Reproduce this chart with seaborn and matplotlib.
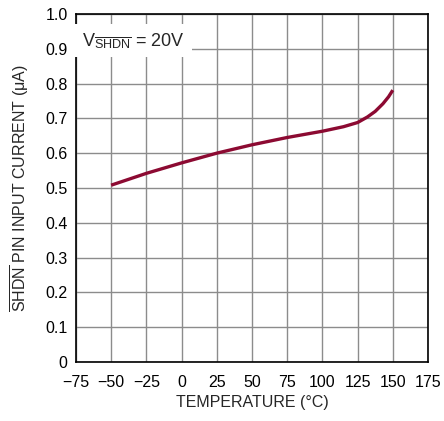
import matplotlib
matplotlib.use("Agg")
import matplotlib.pyplot as plt
import seaborn as sns
import pandas as pd

# --- Data ---
temperature = [-50, -25, 0, 25, 50, 75, 100, 115, 125, 132, 137.5, 143, 147, 150]
current = [0.508, 0.542, 0.572, 0.600, 0.624, 0.645, 0.663, 0.676, 0.688, 0.704, 0.720, 0.742, 0.762, 0.781]
x_ticks = [-75, -50, -25, 0, 25, 50, 75, 100, 125, 150, 175]
y_ticks = [0, 0.1, 0.2, 0.3, 0.4, 0.5, 0.6, 0.7, 0.8, 0.9, 1.0]
y_tick_labels = ["0", "0.1", "0.2", "0.3", "0.4", "0.5", "0.6", "0.7", "0.8", "0.9", "1.0"]

df = pd.DataFrame({"temperature": temperature, "current": current})

# --- Style ---
sns.set_style("white")
plt.rcParams["font.family"] = ["Liberation Sans", "DejaVu Sans"]
plt.rcParams["mathtext.fontset"] = "custom"
plt.rcParams["mathtext.rm"] = "Liberation Sans"
plt.rcParams["mathtext.it"] = "Liberation Sans"
plt.rcParams["mathtext.bf"] = "Liberation Sans"

fig = plt.figure(figsize=(4.44, 4.21), dpi=100)
ax = fig.add_axes((0.171, 0.140, 0.793, 0.827))

sns.lineplot(data=df, x="temperature", y="current", ax=ax,
             color="#8c0a32", linewidth=2.4, solid_capstyle="butt")

ax.set_xlim(-75, 175)
ax.set_ylim(0, 1.0)
ax.set_xticks(x_ticks)
ax.set_xticklabels([str(t).replace("-", "\u2212") for t in x_ticks])
ax.set_yticks(y_ticks)
ax.set_yticklabels(y_tick_labels)
ax.grid(True, color="#8c8c8c", linewidth=1.0)
ax.set_axisbelow(True)
ax.tick_params(axis="x", labelsize=11.5, length=0, pad=9, colors="black")
ax.tick_params(axis="y", labelsize=11.5, length=0, pad=6, colors="black")

for s in ax.spines.values():
    s.set_color("black")
    s.set_linewidth(1.2)

ax.set_xlabel("TEMPERATURE (°C)", fontsize=11.5, labelpad=4)
ax.set_ylabel(r"$\overline{\mathrm{SHDN}}$ PIN INPUT CURRENT (μA)", fontsize=11.5, labelpad=10)

ax.text(-70.5, 0.95, r"V$_{\overline{\mathrm{SHDN}}}$ = 20V", fontsize=13,
        va="top", ha="left",
        bbox=dict(facecolor="white", edgecolor="none", pad=5))

fig.savefig("out.png", dpi=100)
